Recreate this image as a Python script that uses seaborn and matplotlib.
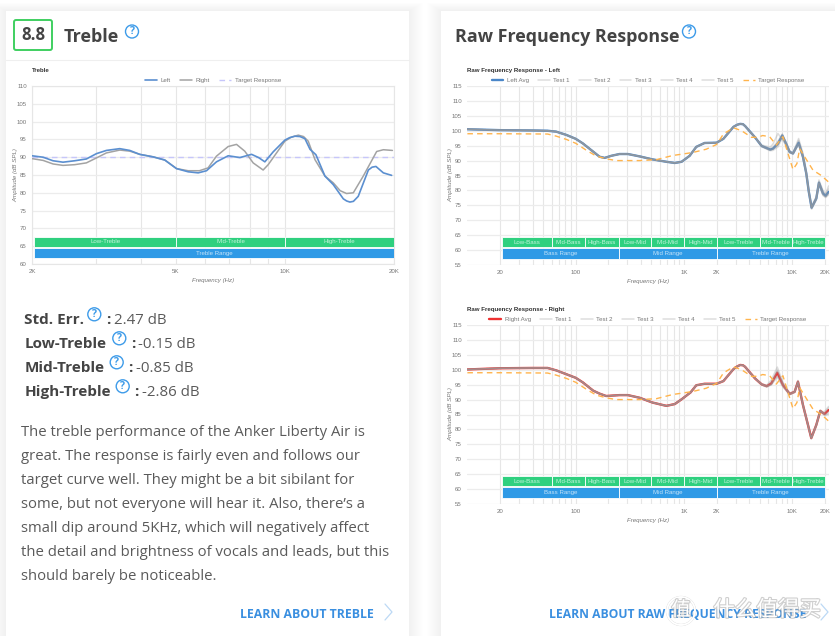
import math
import matplotlib
matplotlib.use("Agg")
import matplotlib.pyplot as plt
import matplotlib.patheffects as pe
from matplotlib.patches import Circle, FancyBboxPatch, Rectangle
from matplotlib.ticker import FixedLocator, FixedFormatter, NullFormatter
import seaborn as sns

# Treble chart
TREBLE_LEFT_FREQ = [2000, 2146, 2286, 2436, 2624, 2826, 3014, 3210, 3495, 3725, 3968, 4321, 4655, 5014, 5400,
                    5756, 6069, 6466, 6966, 7505, 8084, 8450, 8796, 9274, 9990, 10300, 10646, 11000, 11350, 11725,
                    12170, 12890, 13590, 14490, 14800, 15110, 15450, 15930, 16990, 17400, 17830, 18690, 19700]
TREBLE_LEFT = [90.4, 90.0, 89.0, 88.6, 89.0, 89.5, 91.0, 91.9, 92.4, 91.9, 90.8, 90.1, 89.2, 86.8, 85.9,
               85.6, 86.2, 88.7, 90.4, 89.9, 90.8, 89.9, 88.7, 91.5, 94.8, 95.5, 95.9, 95.8, 95.2, 92.2,
               90.7, 84.7, 82.3, 78.3, 77.7, 77.4, 77.6, 79.0, 86.4, 87.2, 87.4, 85.6, 84.9]
TREBLE_RIGHT_FREQ = [2000, 2146, 2286, 2436, 2624, 2826, 3014, 3210, 3495, 3725, 3968, 4321, 4655, 5014, 5400,
                     5800, 6130, 6466, 6966, 7345, 7740, 8165, 8700, 8985, 9990, 10400, 10880, 11250, 11590, 12100,
                     12890, 13590, 14200, 14790, 15440, 16450, 17910, 18690, 19800]
TREBLE_RIGHT = [89.6, 89.1, 88.1, 87.7, 87.9, 88.4, 89.8, 91.2, 92.0, 91.7, 90.8, 90.1, 89.2, 86.8, 86.2,
                86.2, 87.0, 90.3, 93.0, 93.6, 91.7, 88.4, 86.4, 87.9, 94.5, 95.6, 96.2, 95.8, 94.5, 89.3,
                84.7, 82.8, 80.6, 79.8, 80.0, 84.7, 91.6, 92.1, 91.9]
TREBLE_TARGET_FREQ = [2000, 20000]
TREBLE_TARGET = [90, 90]

# Raw frequency response, shared low end
RAW_LEFT_HEAD_FREQ = [10, 20, 40, 55, 66, 82, 100, 116, 145, 166, 185, 213, 254, 303, 390, 512, 687, 822, 950,
                      1127, 1298, 1548, 2000, 2310, 2860, 3090, 3300, 3500, 3660, 4520]
RAW_LEFT_HEAD = [100.5, 100.2, 100.1, 100.0, 99.7, 98.6, 97.3, 95.8, 93.0, 91.3, 90.9, 91.6, 92.2, 92.2, 91.4,
                 90.4, 89.6, 89.2, 89.6, 91.6, 94.6, 95.9, 96.0, 97.3, 101.3, 102.0, 102.3, 102.2, 101.6, 97.8]
RAW_LEFT_TAIL_FREQ = [5210, 6240, 6620, 7365, 8075, 8795, 9440, 10140, 11430, 12530, 13450, 14200, 15060, 16640,
                      17610, 19170, 20290, 21620]
RAW_LEFT_AVG = [94.9, 93.7, 94.0, 95.7, 98.4, 95.5, 92.9, 92.4, 96.0, 91.3, 85.7, 79.5, 74.2, 77.3, 82.6, 79.0, 78.2, 79.5]
RAW_LEFT_T1 = [95.2, 94.5, 95.5, 99.1, 97.0, 95.0, 92.8, 92.6, 97.4, 92.5, 86.5, 80.0, 74.5, 78.0, 83.5, 80.0, 78.8, 81.5]
RAW_LEFT_T2 = [94.8, 93.5, 93.8, 95.2, 98.8, 95.8, 93.3, 92.3, 95.5, 91.0, 85.5, 79.5, 74.0, 77.0, 82.5, 78.5, 77.8, 79.0]
RAW_LEFT_T3 = [94.6, 93.3, 93.4, 94.6, 97.5, 95.2, 92.6, 92.2, 95.3, 90.8, 85.2, 79.0, 73.7, 76.8, 81.8, 78.3, 77.6, 78.5]
RAW_LEFT_T4 = [95.0, 94.0, 94.5, 96.5, 98.9, 96.0, 93.2, 92.5, 96.8, 91.8, 86.0, 80.0, 74.5, 77.8, 83.0, 79.5, 78.5, 80.5]
RAW_LEFT_T5 = [94.9, 93.6, 93.9, 95.4, 98.0, 95.3, 92.8, 92.3, 95.8, 91.2, 85.6, 79.4, 74.1, 77.1, 82.4, 78.9, 78.0, 79.2]

RAW_RIGHT_HEAD_FREQ = [10, 20, 40, 55, 66, 82, 100, 116, 145, 166, 191, 254, 303, 390, 512, 687, 822, 950,
                       1150, 1298, 1548, 2000, 2310, 2860, 3090, 3300, 3500, 3660, 4520]
RAW_RIGHT_HEAD = [100.1, 100.5, 100.6, 100.6, 99.8, 98.5, 97.3, 95.8, 93.0, 92.0, 91.2, 91.5, 91.5, 90.6, 89.0,
                  87.9, 88.5, 90.1, 92.4, 94.8, 95.3, 95.3, 96.2, 100.2, 101.1, 101.6, 101.5, 101.0, 97.1]
RAW_RIGHT_TAIL_FREQ = [5210, 5800, 6390, 7260, 8190, 9440, 10500, 11270, 12530, 14960, 16640, 18110, 19170, 19860, 21620]
RAW_RIGHT_AVG = [95.1, 94.5, 95.4, 99.0, 94.9, 91.9, 92.6, 96.0, 88.2, 77.1, 81.5, 86.2, 85.5, 85.2, 86.5]
RAW_RIGHT_T1 = [95.3, 94.8, 96.5, 100.9, 95.8, 92.2, 92.8, 96.4, 88.6, 77.3, 81.8, 86.5, 85.9, 86.0, 87.7]
RAW_RIGHT_T2 = [94.9, 94.2, 95.2, 99.9, 95.3, 91.7, 92.5, 95.8, 88.0, 77.0, 81.3, 86.0, 85.2, 84.6, 85.5]
RAW_RIGHT_T3 = [95.0, 94.4, 95.0, 98.0, 94.4, 91.6, 92.4, 95.6, 87.9, 76.8, 81.2, 86.1, 85.6, 85.0, 86.0]
RAW_RIGHT_T4 = [95.2, 94.6, 95.8, 99.6, 95.2, 92.0, 92.7, 96.2, 88.4, 77.2, 81.6, 86.3, 85.4, 85.5, 87.2]
RAW_RIGHT_T5 = [95.1, 94.3, 94.9, 97.6, 94.2, 91.8, 92.5, 95.9, 88.1, 77.0, 81.4, 86.2, 85.7, 84.9, 85.0]

TARGET_FREQ = [10, 20, 55, 66, 82, 100, 125, 155, 191, 237, 390, 555, 786, 1200, 1600, 2000, 2310, 2860, 3400, 4200,
               4815, 5320, 6170, 7110, 8190, 8920, 10140, 11030, 11680, 12980, 15500, 18500, 21620]
TARGET_LEFT = [99.0, 99.0, 98.9, 98.2, 97.1, 95.8, 93.5, 91.5, 90.6, 90.0, 90.0, 90.3, 91.7, 92.7, 93.8, 95.4, 98.9,
               101.0, 100.0, 97.8, 97.8, 98.4, 98.0, 95.2, 98.0, 93.5, 87.0, 89.0, 94.0, 91.3, 86.8, 85.0, 82.8]

# Bands
TREBLE_BANDS = [("Low-Treble", 2030, 5000), ("Mid-Treble", 5000, 10000), ("High-Treble", 10000, 20000)]
TREBLE_RANGE = [("Treble Range", 2030, 20000)]
RAW_BANDS = [("Low-Bass", 20.7, 60), ("Mid-Bass", 60, 123), ("High-Bass", 123, 250), ("Low-Mid", 250, 500),
             ("Mid-Mid", 500, 1000), ("High-Mid", 1000, 2000), ("Low-Treble", 2000, 5000),
             ("Mid-Treble", 5000, 10000), ("High-Treble", 10000, 20000)]
RAW_RANGES = [("Bass Range", 20.7, 250), ("Mid Range", 250, 2000), ("Treble Range", 2000, 20000)]

# Ticks
TREBLE_YTICKS = [60, 65, 70, 75, 80, 85, 90, 95, 100, 105, 110]
TREBLE_XTICKS = [2000, 5000, 10000, 20000]
TREBLE_XLABELS = ["2K", "5K", "10K", "20K"]
TREBLE_XMINOR = [3000, 4000, 6000, 7000, 8000, 9000]
RAW_YTICKS = [55, 60, 65, 70, 75, 80, 85, 90, 95, 100, 105, 110, 115]
RAW_XTICKS = [20, 100, 1000, 2000, 10000, 20000]
RAW_XLABELS = ["20", "100", "1K", "2K", "10K", "20K"]
RAW_XMINOR = [30, 40, 50, 60, 70, 80, 90, 200, 300, 400, 500, 600, 700, 800, 900, 3000, 4000, 5000, 6000, 7000,
              8000, 9000]

# Page text
STATS = [("Std. Err.", "2.47 dB"), ("Low-Treble", "-0.15 dB"), ("Mid-Treble", "-0.85 dB"), ("High-Treble", "-2.86 dB")]
BODY = ["The treble performance of the Anker Liberty Air is",
        "great. The response is fairly even and follows our",
        "target curve well. They might be a bit sibilant for",
        "some, but not everyone will hear it. Also, there\u2019s a",
        "small dip around 5KHz, which will negatively affect",
        "the detail and brightness of vocals and leads, but this",
        "should barely be noticeable."]

W, H = 835, 636
GRID = "#e6e6e6"
TICK = "#777777"
GREEN = "#2fd07f"
BLUE = "#2f9ae6"
ICON = "#3d9be9"
INK = "#444444"
BODY_INK = "#5a5a5a"
LINK = "#3a8fe0"
SMALL = 4.4


def axes_at(fig, left, top, right, bottom):
    return fig.add_axes([left / W, 1 - bottom / H, (right - left) / W, (bottom - top) / H])


def draw_bands(ax, bands, ranges, green_y, blue_y):
    for rows, (y0, y1), colour in ((bands, green_y, GREEN), (ranges, blue_y, BLUE)):
        for name, start, stop in rows:
            ax.barh((y0 + y1) / 2, stop - start, height=y1 - y0, left=start, color=colour,
                    edgecolor="white", linewidth=0.6, zorder=3)
            ax.text(math.sqrt(start * stop), (y0 + y1) / 2, name, color="white", alpha=0.72, fontsize=SMALL,
                    ha="center", va="center", zorder=4)


def style_axes(ax, xlim, ylim, yticks, xticks, xlabels, xminor, title):
    ax.set_xscale("log")
    ax.set_xlim(*xlim)
    ax.set_ylim(*ylim)
    ax.set_yticks(yticks)
    ax.xaxis.set_major_locator(FixedLocator(xticks))
    ax.xaxis.set_major_formatter(FixedFormatter(xlabels))
    ax.xaxis.set_minor_locator(FixedLocator(xminor))
    ax.xaxis.set_minor_formatter(NullFormatter())
    ax.set_axisbelow(True)
    ax.grid(True, which="both", axis="x", color=GRID, linewidth=0.8)
    ax.grid(True, which="major", axis="y", color="#ececec", linewidth=0.9)
    ax.tick_params(axis="both", which="both", length=2.2, width=0.7, color=GRID, labelcolor=TICK,
                   labelsize=SMALL, pad=1.5)
    ax.set_xlabel("Frequency (Hz)", fontsize=SMALL, style="italic", color=TICK, labelpad=2.5)
    ax.set_ylabel("Amplitude (dB SPL)", fontsize=SMALL, style="italic", color=TICK, labelpad=-1)
    ax.text(0, 1.085, title, transform=ax.transAxes, fontsize=SMALL, fontweight="bold", color="#333333",
            ha="left", va="center")


def add_legend(ax, spacing):
    return ax.legend(loc="center", bbox_to_anchor=(0.5, 1.033), ncol=8, frameon=False, fontsize=SMALL,
                     handlelength=1.9, handletextpad=0.6, columnspacing=spacing, borderpad=0, labelcolor=TICK)


def draw_raw(ax, head_freq, head, tail_freq, avg, tests, avg_name, avg_colour, title):
    freq = head_freq + tail_freq
    sns.lineplot(x=freq, y=head + avg, ax=ax, color=avg_colour, linewidth=1.7, estimator=None, sort=False,
                 label=avg_name, zorder=5)
    for i, test in enumerate(tests):
        sns.lineplot(x=freq, y=head + test, ax=ax, color="#9a9a9a", alpha=0.33, linewidth=1.1, estimator=None,
                     sort=False, label=f"Test {i + 1}", zorder=6)
    sns.lineplot(x=TARGET_FREQ, y=TARGET_LEFT, ax=ax, color="#ffb44d", linewidth=1.0, linestyle=(0, (4, 3)),
                 estimator=None, sort=False, label="Target Response", zorder=7)
    draw_bands(ax, RAW_BANDS, RAW_RANGES, (61.0, 64.3), (57.0, 60.6))
    style_axes(ax, (9.92, 21800), (55, 115), RAW_YTICKS, RAW_XTICKS, RAW_XLABELS, RAW_XMINOR, title)
    for spine in ax.spines.values():
        spine.set_visible(False)
    add_legend(ax, 1.5)


def help_icon(page, x, y, r=6.5):
    page.add_patch(Circle((x, y), r, fill=False, edgecolor=ICON, linewidth=1.0))
    page.text(x, y + 0.3, "?", color=ICON, fontsize=r * 1.15, fontweight="bold", ha="center", va="center",
              family="Open Sans")


def chevron(page, x, y):
    page.plot([x, x + 7, x], [y - 8, y, y + 8], color="#bcd9f5", linewidth=0.9)


def main():
    sns.set_theme(style="white")
    plt.rcParams["font.family"] = ["Liberation Sans", "DejaVu Sans"]

    fig = plt.figure(figsize=(W / 100, H / 100), dpi=100, facecolor="white")

    page = fig.add_axes([0, 0, 1, 1], zorder=0)
    page.set_xlim(0, W)
    page.set_ylim(H, 0)
    page.axis("off")

    # cards with a soft shadow
    for left, right in ((6, 409), (441, 850)):
        for grow in range(1, 15):
            page.add_patch(Rectangle((left - grow, 11 - grow * 0.6), right - left + 2 * grow, 640,
                                     facecolor="black", alpha=0.0035, edgecolor="none"))
        page.add_patch(Rectangle((left, 11), right - left, 640, facecolor="white", edgecolor="none"))
    page.plot([6, 409], [59.5, 59.5], color="#efefef", linewidth=0.8)

    # header
    page.add_patch(FancyBboxPatch((14, 20), 38, 30, boxstyle="round,pad=0,rounding_size=2", fill=False,
                                  edgecolor="#3fcf60", linewidth=1.4))
    page.text(33, 35.5, "8.8", family="Open Sans", fontweight="bold", fontsize=12, color=INK, ha="center", va="center")
    page.text(64, 42, "Treble", family="Open Sans", fontweight="bold", fontsize=13, color=INK, ha="left", va="baseline")
    help_icon(page, 132, 31.5)
    page.text(455, 42, "Raw Frequency Response", family="Open Sans", fontweight="bold", fontsize=12.85, color=INK,
              ha="left", va="baseline")
    help_icon(page, 689, 31.5)

    # stats
    icon_x = [94.3, 119.3, 116.7, 122.7]
    colon_x = [106, 131, 128.3, 134.3]
    value_x = [114, 138.3, 136, 142.3]
    for i, (name, value) in enumerate(STATS):
        y = 324 + 24 * i
        page.text(24.5, y, name, family="Open Sans", fontweight="bold", fontsize=11, color=INK, va="baseline")
        help_icon(page, icon_x[i], y - 9.7)
        page.text(colon_x[i], y, ":", family="Open Sans", fontweight="bold", fontsize=11, color=INK, va="baseline")
        page.text(value_x[i], y, value, family="Open Sans", fontsize=10.8, color=BODY_INK, va="baseline")

    for i, line in enumerate(BODY):
        page.text(20.7, 436 + 24 * i, line, family="Open Sans", fontsize=10.74, color=BODY_INK, va="baseline")

    page.text(240.5, 617.5, "LEARN ABOUT TREBLE", family="Open Sans", fontweight="bold", fontsize=8.8, color=LINK,
              va="baseline")
    chevron(page, 385, 612)
    page.text(549, 617.5, "LEARN ABOUT RAW FREQUENCY RESPONSE", family="Open Sans", fontweight="bold", fontsize=8.76,
              color=LINK, va="baseline")
    chevron(page, 821, 612)

    # Treble chart
    ax = axes_at(fig, 32, 86, 394, 264)
    ax.patch.set_alpha(0)
    sns.lineplot(x=TREBLE_LEFT_FREQ, y=TREBLE_LEFT, ax=ax, color="#5b8fd0", linewidth=1.2, estimator=None, sort=False,
                 label="Left", zorder=6)
    sns.lineplot(x=TREBLE_RIGHT_FREQ, y=TREBLE_RIGHT, ax=ax, color="#a3a3a3", linewidth=1.1, estimator=None, sort=False,
                 label="Right", zorder=5)
    sns.lineplot(x=TREBLE_TARGET_FREQ, y=TREBLE_TARGET, ax=ax, color="#c6c6fa", linewidth=1.0, linestyle=(0, (4, 3)),
                 estimator=None, sort=False, label="Target Response", zorder=4)
    draw_bands(ax, TREBLE_BANDS, TREBLE_RANGE, (64.9, 67.7), (61.6, 64.5))
    style_axes(ax, (2000, 20000), (60, 110), TREBLE_YTICKS, TREBLE_XTICKS, TREBLE_XLABELS, TREBLE_XMINOR, "Treble")
    for spine in ax.spines.values():
        spine.set_color(GRID)
        spine.set_linewidth(0.8)
    add_legend(ax, 1.6)

    # Raw charts
    ax = axes_at(fig, 467, 86, 829, 265)
    ax.patch.set_alpha(0)
    draw_raw(ax, RAW_LEFT_HEAD_FREQ, RAW_LEFT_HEAD, RAW_LEFT_TAIL_FREQ, RAW_LEFT_AVG,
             [RAW_LEFT_T1, RAW_LEFT_T2, RAW_LEFT_T3, RAW_LEFT_T4, RAW_LEFT_T5],
             "Left Avg", "#4a86c8", "Raw Frequency Response - Left")

    ax = axes_at(fig, 467, 325, 829, 504)
    ax.patch.set_alpha(0)
    draw_raw(ax, RAW_RIGHT_HEAD_FREQ, RAW_RIGHT_HEAD, RAW_RIGHT_TAIL_FREQ, RAW_RIGHT_AVG,
             [RAW_RIGHT_T1, RAW_RIGHT_T2, RAW_RIGHT_T3, RAW_RIGHT_T4, RAW_RIGHT_T5],
             "Right Avg", "#ee3030", "Raw Frequency Response - Right")

    # site watermark
    mark = fig.add_axes([0, 0, 1, 1], zorder=10)
    mark.set_xlim(0, W)
    mark.set_ylim(H, 0)
    mark.axis("off")
    halo = [pe.withStroke(linewidth=1.6, foreground="#a8a8a8", alpha=0.55)]
    mark.add_patch(Circle((681, 611), 14, fill=False, edgecolor="white", linewidth=1.4, path_effects=halo))
    mark.text(681, 610, "值", family=["Noto Sans CJK SC", "DejaVu Sans"], fontsize=14, color="white", ha="center",
              va="center", path_effects=halo)
    mark.text(767, 610, "什么值得买", family=["Noto Sans CJK SC", "DejaVu Sans"], fontsize=15.5, color="white",
              ha="center", va="center", path_effects=halo)

    fig.savefig("out.png", dpi=100)
    plt.close(fig)


if __name__ == "__main__":
    main()
